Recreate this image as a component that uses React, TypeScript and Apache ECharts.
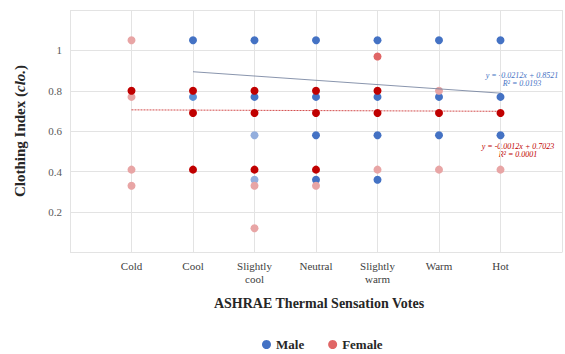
import React, { useEffect, useRef } from "react";
import * as echarts from "echarts";

const categories = ["Cold", "Cool", "Slightly\ncool", "Neutral", "Slightly\nwarm", "Warm", "Hot"];
const votes = [-3, -2, -1, 0, 1, 2, 3];
const yTicks = [0.2, 0.4, 0.6, 0.8, 1];

// [vote, clo, shade] shade: 0 light, 1 medium, 2 dark
const maleData: [number, number, number][] = [
  [-2, 1.05, 2], [-2, 0.77, 1],
  [-1, 1.05, 2], [-1, 0.77, 2], [-1, 0.58, 0], [-1, 0.36, 0],
  [0, 1.05, 2], [0, 0.77, 2], [0, 0.58, 2], [0, 0.36, 2],
  [1, 1.05, 2], [1, 0.77, 2], [1, 0.58, 2], [1, 0.36, 2],
  [2, 1.05, 2], [2, 0.77, 2], [2, 0.58, 2],
  [3, 1.05, 2], [3, 0.77, 2], [3, 0.58, 2],
];
const femaleData: [number, number, number][] = [
  [-3, 1.05, 0], [-3, 0.77, 0], [-3, 0.8, 2], [-3, 0.41, 0], [-3, 0.33, 0],
  [-2, 0.8, 2], [-2, 0.69, 2], [-2, 0.41, 2],
  [-1, 0.8, 2], [-1, 0.69, 2], [-1, 0.41, 2], [-1, 0.33, 0], [-1, 0.12, 0],
  [0, 0.8, 2], [0, 0.69, 2], [0, 0.41, 2], [0, 0.33, 0],
  [1, 0.97, 1], [1, 0.8, 2], [1, 0.69, 2], [1, 0.41, 0],
  [2, 0.8, 0], [2, 0.69, 2], [2, 0.41, 0],
  [3, 0.69, 2], [3, 0.41, 0],
];
const maleFit = { slope: -0.0212, intercept: 0.8521, r2: "0.0193", from: -2, to: 3 };
const femaleFit = { slope: -0.0012, intercept: 0.7023, r2: "0.0001", from: -3, to: 3 };

const maleColors = ["#93aedd", "#5b8fd3", "#4472c4"];
const femaleColors = ["#e8a5a5", "#e06666", "#c00000"];
const FONT = "'Liberation Serif', 'Times New Roman', serif";

export default function App() {
  const ref = useRef<HTMLDivElement>(null);
  useEffect(() => {
    const chart = echarts.init(ref.current!, null, { renderer: "svg" });
    const fitLine = (f: typeof maleFit) => [
      [f.from, f.slope * f.from + f.intercept],
      [f.to, f.slope * f.to + f.intercept],
    ];
    chart.setOption({
      animation: false,
      backgroundColor: "#fff",
      grid: { left: 70, right: -3, top: 10, bottom: 101.5, containLabel: false },
      xAxis: {
        type: "value",
        min: -4,
        max: 4,
        interval: 1,
        axisLine: { show: false },
        axisTick: { show: false },
        splitLine: { show: true, lineStyle: { color: "#e3e3e3", width: 1 } },
        axisLabel: {
          fontFamily: FONT,
          fontSize: 11,
          color: "#404040",
          lineHeight: 13,
          margin: 7,
          verticalAlign: "top",
          formatter: (v: number) => {
            const i = votes.indexOf(Math.round(v));
            return i >= 0 ? categories[i] : "";
          },
        },
      },
      yAxis: {
        type: "value",
        min: 0,
        max: 1.2,
        interval: 0.2,
        axisLine: { show: false },
        axisTick: { show: false },
        splitLine: { show: true, lineStyle: { color: "#e3e3e3", width: 1 } },
        axisLabel: {
          fontFamily: FONT,
          fontSize: 11,
          color: "#595959",
          margin: 8,
          formatter: (v: number) => {
            const r = Math.round(v * 10) / 10;
            return yTicks.some((t) => Math.abs(t - r) < 1e-6) ? String(r) : "";
          },
        },
      },
      legend: {
        left: 257,
        top: 333,
        itemGap: 24,
        itemWidth: 9,
        itemHeight: 9,
        icon: "circle",
        textStyle: { fontFamily: FONT, fontSize: 13, fontWeight: "bold", color: "#262626" },
        data: [
          { name: "Male", itemStyle: { color: "#4472c4" } },
          { name: "Female", itemStyle: { color: "#e06666" } },
        ],
      },
      series: [
        {
          name: "Male",
          type: "scatter",
          symbolSize: 8,
          data: maleData,
          itemStyle: { color: (p: any) => maleColors[p.data[2]], opacity: 1 },
          z: 2,
        },
        {
          name: "Female",
          type: "scatter",
          symbolSize: 8,
          data: femaleData,
          itemStyle: { color: (p: any) => femaleColors[p.data[2]], opacity: 1 },
          z: 3,
        },
        {
          name: "MaleFit",
          type: "line",
          data: fitLine(maleFit),
          showSymbol: false,
          symbol: "none",
          lineStyle: { color: "#6b7b99", width: 1, type: "solid", opacity: 0.8 },
          z: 4,
        },
        {
          name: "FemaleFit",
          type: "line",
          data: fitLine(femaleFit),
          showSymbol: false,
          symbol: "none",
          lineStyle: { color: "#c00000", width: 1, type: [2, 1], opacity: 0.7 },
          z: 1,
        },
      ],
      graphic: [
        {
          type: "text",
          rotation: Math.PI / 2,
          x: 20,
          y: 131,
          style: {
            text: "{b|Clothing Index (}{i|clo.}{b|)}",
            rich: {
              b: { fontFamily: FONT, fontSize: 15, fontWeight: "bold", fill: "#262626" },
              i: { fontFamily: FONT, fontSize: 15, fontWeight: "bold", fontStyle: "italic", fill: "#262626" },
            },
            fill: "#262626",
            align: "center",
            verticalAlign: "middle",
          },
        },
        {
          type: "text",
          x: 319,
          y: 303,
          style: {
            text: "ASHRAE Thermal Sensation Votes",
            fontFamily: FONT,
            fontSize: 14,
            fontWeight: "bold",
            fill: "#262626",
            align: "center",
            verticalAlign: "middle",
          },
        },
        {
          type: "text",
          x: 522,
          y: 79,
          style: {
            text: `y = ${maleFit.slope}x + ${maleFit.intercept}\nR² = ${maleFit.r2}`,
            fontFamily: FONT,
            fontSize: 8,
            fontStyle: "italic",
            fill: "#4472c4",
            align: "center",
            verticalAlign: "middle",
            lineHeight: 8,
          },
        },
        {
          type: "text",
          x: 518,
          y: 150,
          style: {
            text: `y = ${femaleFit.slope}x + ${femaleFit.intercept}\nR² = ${femaleFit.r2}`,
            fontFamily: FONT,
            fontSize: 8,
            fontStyle: "italic",
            fill: "#c00000",
            align: "center",
            verticalAlign: "middle",
            lineHeight: 8,
          },
        },
      ],
    });
    return () => chart.dispose();
  }, []);
  return <div ref={ref} style={{ width: 565, height: 354, position: "fixed", left: 0, top: 0 }} />;
}
